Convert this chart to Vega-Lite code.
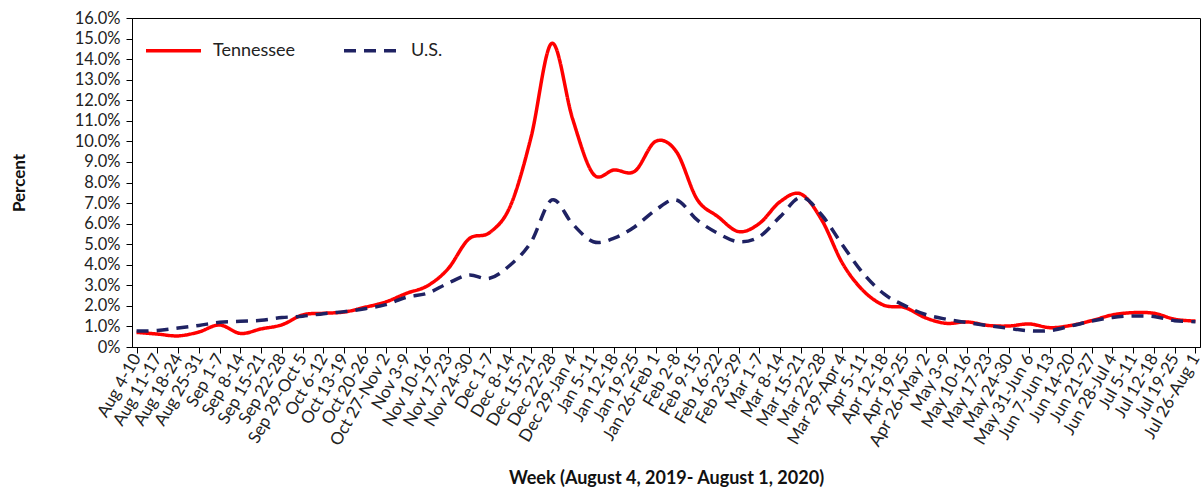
{
  "$schema": "https://vega.github.io/schema/vega-lite/v6.json",
  "width": 1068,
  "height": 329,
  "autosize": {"type": "none"},
  "padding": {"left": 132, "top": 18, "right": 3, "bottom": 147},
  "background": "white",
  "config": {"font": "Lato", "view": {"stroke": "#000", "strokeWidth": 1}},
  "data": {"values": [
    {"week": "Aug 4-10", "series": "Tennessee", "value": 0.71},
    {"week": "Aug 11-17", "series": "Tennessee", "value": 0.63},
    {"week": "Aug 18-24", "series": "Tennessee", "value": 0.54},
    {"week": "Aug 25-31", "series": "Tennessee", "value": 0.73},
    {"week": "Sep 1-7", "series": "Tennessee", "value": 1.07},
    {"week": "Sep 8-14", "series": "Tennessee", "value": 0.66},
    {"week": "Sep 15-21", "series": "Tennessee", "value": 0.88},
    {"week": "Sep 22-28", "series": "Tennessee", "value": 1.08},
    {"week": "Sep 29-Oct 5", "series": "Tennessee", "value": 1.56},
    {"week": "Oct 6-12", "series": "Tennessee", "value": 1.64},
    {"week": "Oct 13-19", "series": "Tennessee", "value": 1.7},
    {"week": "Oct 20-26", "series": "Tennessee", "value": 1.93},
    {"week": "Oct 27-Nov 2", "series": "Tennessee", "value": 2.19},
    {"week": "Nov 3-9", "series": "Tennessee", "value": 2.61},
    {"week": "Nov 10-16", "series": "Tennessee", "value": 2.97},
    {"week": "Nov 17-23", "series": "Tennessee", "value": 3.8},
    {"week": "Nov 24-30", "series": "Tennessee", "value": 5.25},
    {"week": "Dec 1-7", "series": "Tennessee", "value": 5.56},
    {"week": "Dec 8-14", "series": "Tennessee", "value": 6.85},
    {"week": "Dec 15-21", "series": "Tennessee", "value": 10.2},
    {"week": "Dec 22-28", "series": "Tennessee", "value": 14.77},
    {"week": "Dec 29-Jan 4", "series": "Tennessee", "value": 11.1},
    {"week": "Jan 5-11", "series": "Tennessee", "value": 8.41},
    {"week": "Jan 12-18", "series": "Tennessee", "value": 8.61},
    {"week": "Jan 19-25", "series": "Tennessee", "value": 8.55},
    {"week": "Jan 26-Feb 1", "series": "Tennessee", "value": 10.0},
    {"week": "Feb 2-8", "series": "Tennessee", "value": 9.5},
    {"week": "Feb 9-15", "series": "Tennessee", "value": 7.18},
    {"week": "Feb 16-22", "series": "Tennessee", "value": 6.34},
    {"week": "Feb 23-29", "series": "Tennessee", "value": 5.61},
    {"week": "Mar 1-7", "series": "Tennessee", "value": 6.01},
    {"week": "Mar 8-14", "series": "Tennessee", "value": 7.07},
    {"week": "Mar 15-21", "series": "Tennessee", "value": 7.44},
    {"week": "Mar 22-28", "series": "Tennessee", "value": 6.18},
    {"week": "Mar 29-Apr 4", "series": "Tennessee", "value": 4.07},
    {"week": "Apr 5-11", "series": "Tennessee", "value": 2.74},
    {"week": "Apr 12-18", "series": "Tennessee", "value": 2.03},
    {"week": "Apr 19-25", "series": "Tennessee", "value": 1.92},
    {"week": "Apr 26-May 2", "series": "Tennessee", "value": 1.42},
    {"week": "May 3-9", "series": "Tennessee", "value": 1.15},
    {"week": "May 10-16", "series": "Tennessee", "value": 1.22},
    {"week": "May 17-23", "series": "Tennessee", "value": 1.05},
    {"week": "May 24-30", "series": "Tennessee", "value": 1.02},
    {"week": "May 31-Jun 6", "series": "Tennessee", "value": 1.12},
    {"week": "Jun 7-Jun 13", "series": "Tennessee", "value": 0.94},
    {"week": "Jun 14-20", "series": "Tennessee", "value": 1.05},
    {"week": "Jun 21-27", "series": "Tennessee", "value": 1.28},
    {"week": "Jun 28-Jul 4", "series": "Tennessee", "value": 1.56},
    {"week": "Jul 5-11", "series": "Tennessee", "value": 1.67},
    {"week": "Jul 12-18", "series": "Tennessee", "value": 1.64},
    {"week": "Jul 19-25", "series": "Tennessee", "value": 1.35},
    {"week": "Jul 26-Aug 1", "series": "Tennessee", "value": 1.26},
    {"week": "Aug 4-10", "series": "U.S.", "value": 0.78},
    {"week": "Aug 11-17", "series": "U.S.", "value": 0.8},
    {"week": "Aug 18-24", "series": "U.S.", "value": 0.92},
    {"week": "Aug 25-31", "series": "U.S.", "value": 1.05},
    {"week": "Sep 1-7", "series": "U.S.", "value": 1.2},
    {"week": "Sep 8-14", "series": "U.S.", "value": 1.25},
    {"week": "Sep 15-21", "series": "U.S.", "value": 1.3},
    {"week": "Sep 22-28", "series": "U.S.", "value": 1.43},
    {"week": "Sep 29-Oct 5", "series": "U.S.", "value": 1.5},
    {"week": "Oct 6-12", "series": "U.S.", "value": 1.62},
    {"week": "Oct 13-19", "series": "U.S.", "value": 1.72},
    {"week": "Oct 20-26", "series": "U.S.", "value": 1.86},
    {"week": "Oct 27-Nov 2", "series": "U.S.", "value": 2.06},
    {"week": "Nov 3-9", "series": "U.S.", "value": 2.42},
    {"week": "Nov 10-16", "series": "U.S.", "value": 2.61},
    {"week": "Nov 17-23", "series": "U.S.", "value": 3.1},
    {"week": "Nov 24-30", "series": "U.S.", "value": 3.5},
    {"week": "Dec 1-7", "series": "U.S.", "value": 3.34},
    {"week": "Dec 8-14", "series": "U.S.", "value": 3.99},
    {"week": "Dec 15-21", "series": "U.S.", "value": 5.1},
    {"week": "Dec 22-28", "series": "U.S.", "value": 7.15},
    {"week": "Dec 29-Jan 4", "series": "U.S.", "value": 5.98},
    {"week": "Jan 5-11", "series": "U.S.", "value": 5.12},
    {"week": "Jan 12-18", "series": "U.S.", "value": 5.29},
    {"week": "Jan 19-25", "series": "U.S.", "value": 5.85},
    {"week": "Jan 26-Feb 1", "series": "U.S.", "value": 6.66},
    {"week": "Feb 2-8", "series": "U.S.", "value": 7.15},
    {"week": "Feb 9-15", "series": "U.S.", "value": 6.18},
    {"week": "Feb 16-22", "series": "U.S.", "value": 5.53},
    {"week": "Feb 23-29", "series": "U.S.", "value": 5.12},
    {"week": "Mar 1-7", "series": "U.S.", "value": 5.37},
    {"week": "Mar 8-14", "series": "U.S.", "value": 6.34},
    {"week": "Mar 15-21", "series": "U.S.", "value": 7.28},
    {"week": "Mar 22-28", "series": "U.S.", "value": 6.42},
    {"week": "Mar 29-Apr 4", "series": "U.S.", "value": 4.96},
    {"week": "Apr 5-11", "series": "U.S.", "value": 3.58},
    {"week": "Apr 12-18", "series": "U.S.", "value": 2.58},
    {"week": "Apr 19-25", "series": "U.S.", "value": 2.01},
    {"week": "Apr 26-May 2", "series": "U.S.", "value": 1.58},
    {"week": "May 3-9", "series": "U.S.", "value": 1.35},
    {"week": "May 10-16", "series": "U.S.", "value": 1.19},
    {"week": "May 17-23", "series": "U.S.", "value": 1.04},
    {"week": "May 24-30", "series": "U.S.", "value": 0.91},
    {"week": "May 31-Jun 6", "series": "U.S.", "value": 0.79},
    {"week": "Jun 7-Jun 13", "series": "U.S.", "value": 0.8},
    {"week": "Jun 14-20", "series": "U.S.", "value": 1.02},
    {"week": "Jun 21-27", "series": "U.S.", "value": 1.26},
    {"week": "Jun 28-Jul 4", "series": "U.S.", "value": 1.44},
    {"week": "Jul 5-11", "series": "U.S.", "value": 1.51},
    {"week": "Jul 12-18", "series": "U.S.", "value": 1.48},
    {"week": "Jul 19-25", "series": "U.S.", "value": 1.28},
    {"week": "Jul 26-Aug 1", "series": "U.S.", "value": 1.23}
  ]},
  "mark": {"type": "line", "interpolate": "cardinal", "strokeWidth": 3.5},
  "encoding": {
    "x": {
      "field": "week", "type": "ordinal", "sort": null,
      "scale": {"type": "point", "padding": 0.22},
      "axis": {
        "title": "Week (August 4, 2019- August 1, 2020)",
        "titleFontSize": 18, "titleFontWeight": "bold", "titleColor": "#111",
        "titleY": 122, "titleBaseline": "top",
        "labelAngle": -60, "labelAlign": "right", "labelBaseline": "middle",
        "labelFontSize": 17, "labelColor": "#222", "labelPadding": 2,
        "labelOverlap": false, "labelBound": false,
        "tickSize": 6, "tickColor": "#000", "domainColor": "#000", "grid": false
      }
    },
    "y": {
      "field": "value", "type": "quantitative",
      "scale": {"domain": [0, 16], "nice": false},
      "axis": {
        "values": [0,1,2,3,4,5,6,7,8,9,10,11,12,13,14,15,16],
        "labelExpr": "datum.value == 0 ? '0%' : format(datum.value, '.1f') + '%'",
        "labelFontSize": 16.5, "labelColor": "#222", "labelPadding": 6,
        "tickSize": 6, "tickColor": "#000", "domainColor": "#000", "grid": false,
        "title": "Percent", "titleFontSize": 17, "titleFontWeight": "bold", "titleColor": "#111",
        "titleX": -113, "titleY": 164.5, "titleAngle": 270, "titleAlign": "center", "titleBaseline": "middle"
      }
    },
    "color": {
      "field": "series", "type": "nominal",
      "scale": {"domain": ["Tennessee", "U.S."], "range": ["#ff0000", "#1f2263"]},
      "legend": {
        "title": null, "orient": "none", "legendX": 12, "legendY": 3, "direction": "horizontal",
        "symbolType": "stroke", "symbolSize": 3025, "symbolStrokeWidth": 3.5,
        "labelFontSize": 18, "labelColor": "#222", "labelOffset": 10, "columnPadding": 41, "padding": 0
      }
    },
    "strokeDash": {
      "field": "series", "type": "nominal",
      "scale": {"domain": ["Tennessee", "U.S."], "range": [[1, 0], [12, 8]]},
      "legend": {
        "title": null, "orient": "none", "legendX": 12, "legendY": 3, "direction": "horizontal",
        "symbolType": "stroke", "symbolSize": 3025, "symbolStrokeWidth": 3.5,
        "labelFontSize": 18, "labelColor": "#222", "labelOffset": 10, "columnPadding": 41, "padding": 0
      }
    }
  }
}
